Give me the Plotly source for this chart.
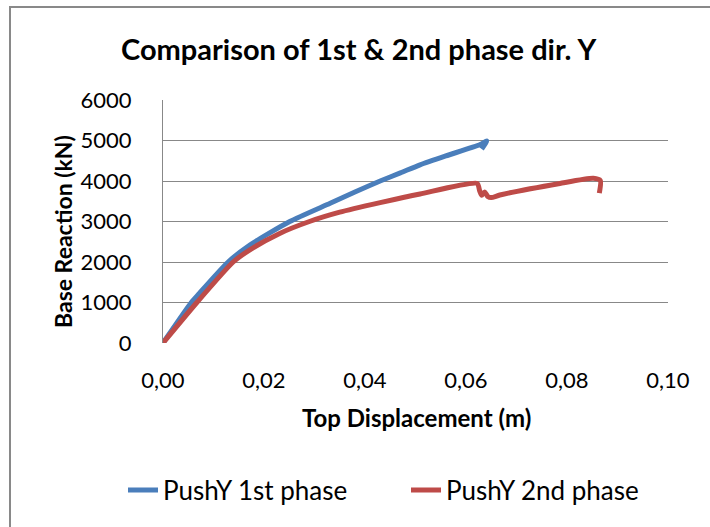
import plotly.graph_objects as go

# Pushover curves: top displacement (m) vs base reaction (kN)
disp_1st = [0, 0.0056, 0.0070, 0.0129, 0.0172, 0.0251, 0.0331, 0.0380, 0.0430, 0.0470,
            0.0509, 0.0560, 0.0628, 0.0641, 0.0631]
base_1st = [0, 1000, 1200, 2000, 2420, 3000, 3450, 3730, 4000, 4200,
            4400, 4620, 4900, 4990, 4790]

disp_2nd = [0, 0.0067, 0.0139, 0.0172, 0.0230, 0.0290, 0.0350, 0.0430, 0.0509, 0.0622,
            0.0627, 0.0631, 0.0637, 0.0643, 0.0650, 0.0667, 0.0786, 0.0852, 0.0866, 0.0864]
base_2nd = [0, 1000, 2000, 2300, 2700, 3000, 3230, 3465, 3680, 3940,
            3760, 3650, 3730, 3620, 3590, 3654, 3940, 4066, 4010, 3700]

series_names = ["PushY 1st phase", "PushY 2nd phase"]

x_ticks = [0, 0.02, 0.04, 0.06, 0.08, 0.10]
x_tick_labels = ["0,00", "0,02", "0,04", "0,06", "0,08", "0,10"]
y_ticks = [0, 1000, 2000, 3000, 4000, 5000, 6000]
y_tick_labels = ["0", "1000", "2000", "3000", "4000", "5000", "6000"]

FONT = "Lato"
GRID = "#888888"

fig = go.Figure()
fig.add_trace(go.Scatter(x=disp_1st, y=base_1st, mode="lines", name=series_names[0],
                         line=dict(color="#4A7EBB", width=5, shape="spline", smoothing=0.6)))
fig.add_trace(go.Scatter(x=disp_2nd, y=base_2nd, mode="lines", name=series_names[1],
                         line=dict(color="#BE4B48", width=5, shape="spline", smoothing=0.6)))

fig.update_layout(
    width=710, height=527,
    margin=dict(l=163, r=42, t=100, b=184),
    paper_bgcolor="white", plot_bgcolor="white",
    font=dict(family=FONT, size=22, color="black"),
    showlegend=True,
    legend=dict(orientation="h", x=(123 - 163) / 505, xanchor="left",
                y=-0.605, yanchor="middle",
                font=dict(size=26), entrywidth=238, entrywidthmode="pixels",
                traceorder="normal", bgcolor="rgba(0,0,0,0)"),
    xaxis=dict(range=[0, 0.10], tickvals=x_ticks, ticktext=x_tick_labels,
               showgrid=False, zeroline=False, showline=False, ticks="",
               ticklabelstandoff=22),
    yaxis=dict(range=[0, 6000], tickvals=y_ticks, ticktext=y_tick_labels,
               showgrid=True, gridcolor=GRID, gridwidth=1.3, zeroline=False,
               showline=True, linecolor=GRID, linewidth=1.3, ticks="",
               ticklabelstandoff=26),
    annotations=[
        dict(text="<b>Comparison of 1st & 2nd phase dir. Y</b>", xref="paper", yref="paper",
             x=(358 - 163) / 505, y=(343 - 48) / 243, xanchor="center", yanchor="middle",
             showarrow=False, font=dict(size=29)),
        dict(text="<b>Top Displacement (m)</b>", xref="paper", yref="paper",
             x=(416 - 163) / 505, y=(343 - 417) / 243, xanchor="center", yanchor="middle",
             showarrow=False, font=dict(size=24)),
        dict(text="<b>Base Reaction (kN)</b>", xref="paper", yref="paper",
             x=(63 - 163) / 505, y=(343 - 232) / 243, xanchor="center", yanchor="middle",
             textangle=-90, showarrow=False, font=dict(size=23)),
    ],
    shapes=[
        dict(type="rect", xref="paper", yref="paper",
             x0=(10 - 163) / 505, x1=(760 - 163) / 505,
             y0=(343 - 580) / 243, y1=(343 - 7) / 243,
             line=dict(color="#898989", width=2), fillcolor="rgba(0,0,0,0)", layer="below"),
    ],
)

fig.write_html("out.html")
